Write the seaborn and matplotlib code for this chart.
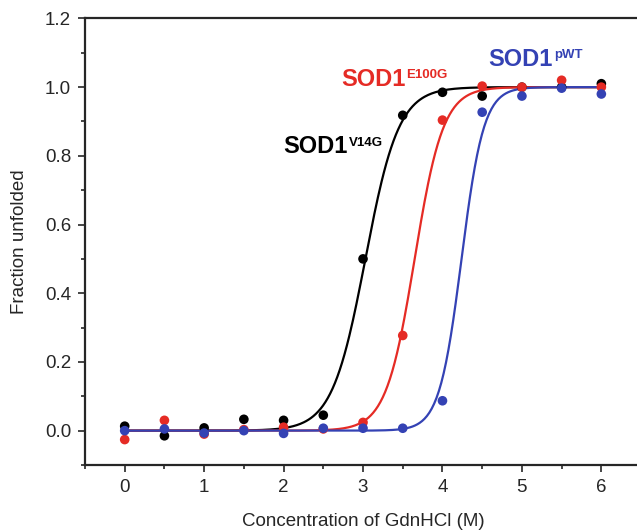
import numpy as np
import pandas as pd
import seaborn as sns
import matplotlib.pyplot as plt
from matplotlib.ticker import MultipleLocator

# GdnHCl concentrations (M)
conc = [0, 0.5, 1, 1.5, 2, 2.5, 3, 3.5, 4, 4.5, 5, 5.5, 6]

# measured fraction unfolded
v14g = [0.013, -0.015, 0.008, 0.033, 0.03, 0.045, 0.50, 0.918, 0.985, 0.974, 1.0, 1.0, 1.01]
e100g = [-0.026, 0.03, -0.01, 0.003, 0.01, 0.005, 0.024, 0.277, 0.904, 1.003, 1.0, 1.02, 1.0]
pwt = [0.0, 0.005, -0.007, 0.0, -0.008, 0.007, 0.007, 0.007, 0.087, 0.927, 0.974, 0.997, 0.98]

# two-state fit parameters: midpoint (M) and width (M)
fit_mid = {'V14G': 3.03, 'E100G': 3.65, 'pWT': 4.24}
fit_width = {'V14G': 0.21, 'E100G': 0.18, 'pWT': 0.14}

colors = {'V14G': '#000000', 'E100G': '#e52b25', 'pWT': '#3442b4'}

# label anchor (x, baseline y) in data units
label_pos = {'V14G': (1.99, 0.807), 'E100G': (2.72, 1.004), 'pWT': (4.58, 1.062)}

df = pd.DataFrame({'conc': conc * 3,
                   'frac': v14g + e100g + pwt,
                   'variant': ['V14G'] * 13 + ['E100G'] * 13 + ['pWT'] * 13})

xfit = np.linspace(0, 6, 400)
fit_rows = []
for v in ['V14G', 'E100G', 'pWT']:
    yfit = 1 / (1 + np.exp(-(xfit - fit_mid[v]) / fit_width[v]))
    fit_rows.append(pd.DataFrame({'conc': xfit, 'frac': yfit, 'variant': v}))
fit_df = pd.concat(fit_rows)

sns.set_style('ticks')
plt.rcParams['font.family'] = ['Liberation Sans', 'DejaVu Sans']

fig = plt.figure(figsize=(6.37, 5.31), dpi=100)
ax = fig.add_axes([0.1334, 0.1243, 0.873, 0.841])

for v in ['V14G', 'E100G', 'pWT']:
    sns.lineplot(data=fit_df[fit_df.variant == v], x='conc', y='frac',
                 color=colors[v], lw=1.6, ax=ax, zorder=2)
    sns.scatterplot(data=df[df.variant == v], x='conc', y='frac',
                    color=colors[v], s=48, edgecolor='none', ax=ax, zorder=3)

ax.set_xlim(-0.5, 6.5)
ax.set_ylim(-0.1, 1.2)
ax.xaxis.set_major_locator(MultipleLocator(1))
ax.xaxis.set_minor_locator(MultipleLocator(0.5))
ax.yaxis.set_major_locator(MultipleLocator(0.2))
ax.yaxis.set_minor_locator(MultipleLocator(0.1))
ax.yaxis.set_major_formatter(plt.FormatStrFormatter('%.1f'))
ax.tick_params(which='major', length=5, width=1.2, labelsize=13.5,
               direction='out', pad=5)
ax.tick_params(which='minor', length=3, width=1.2, direction='out')
for s in ax.spines.values():
    s.set_linewidth(1.6)
ax.spines['right'].set_visible(False)

ax.set_xlabel('Concentration of GdnHCl (M)', fontsize=13.5, labelpad=12)
ax.set_ylabel('Fraction unfolded', fontsize=13.5, labelpad=12)

# SOD1 labels with superscript variant names
for v in ['V14G', 'E100G', 'pWT']:
    x0, y0 = label_pos[v]
    t = ax.text(x0, y0, 'SOD1', color=colors[v], fontsize=17,
                fontweight='bold', va='baseline')
    ax.annotate(v, xy=(1, y0), xycoords=(t, 'data'), xytext=(1, 5.5),
                textcoords='offset points', color=colors[v], fontsize=9.5,
                fontweight='bold', va='baseline', ha='left')

plt.savefig('out.png', dpi=100)
